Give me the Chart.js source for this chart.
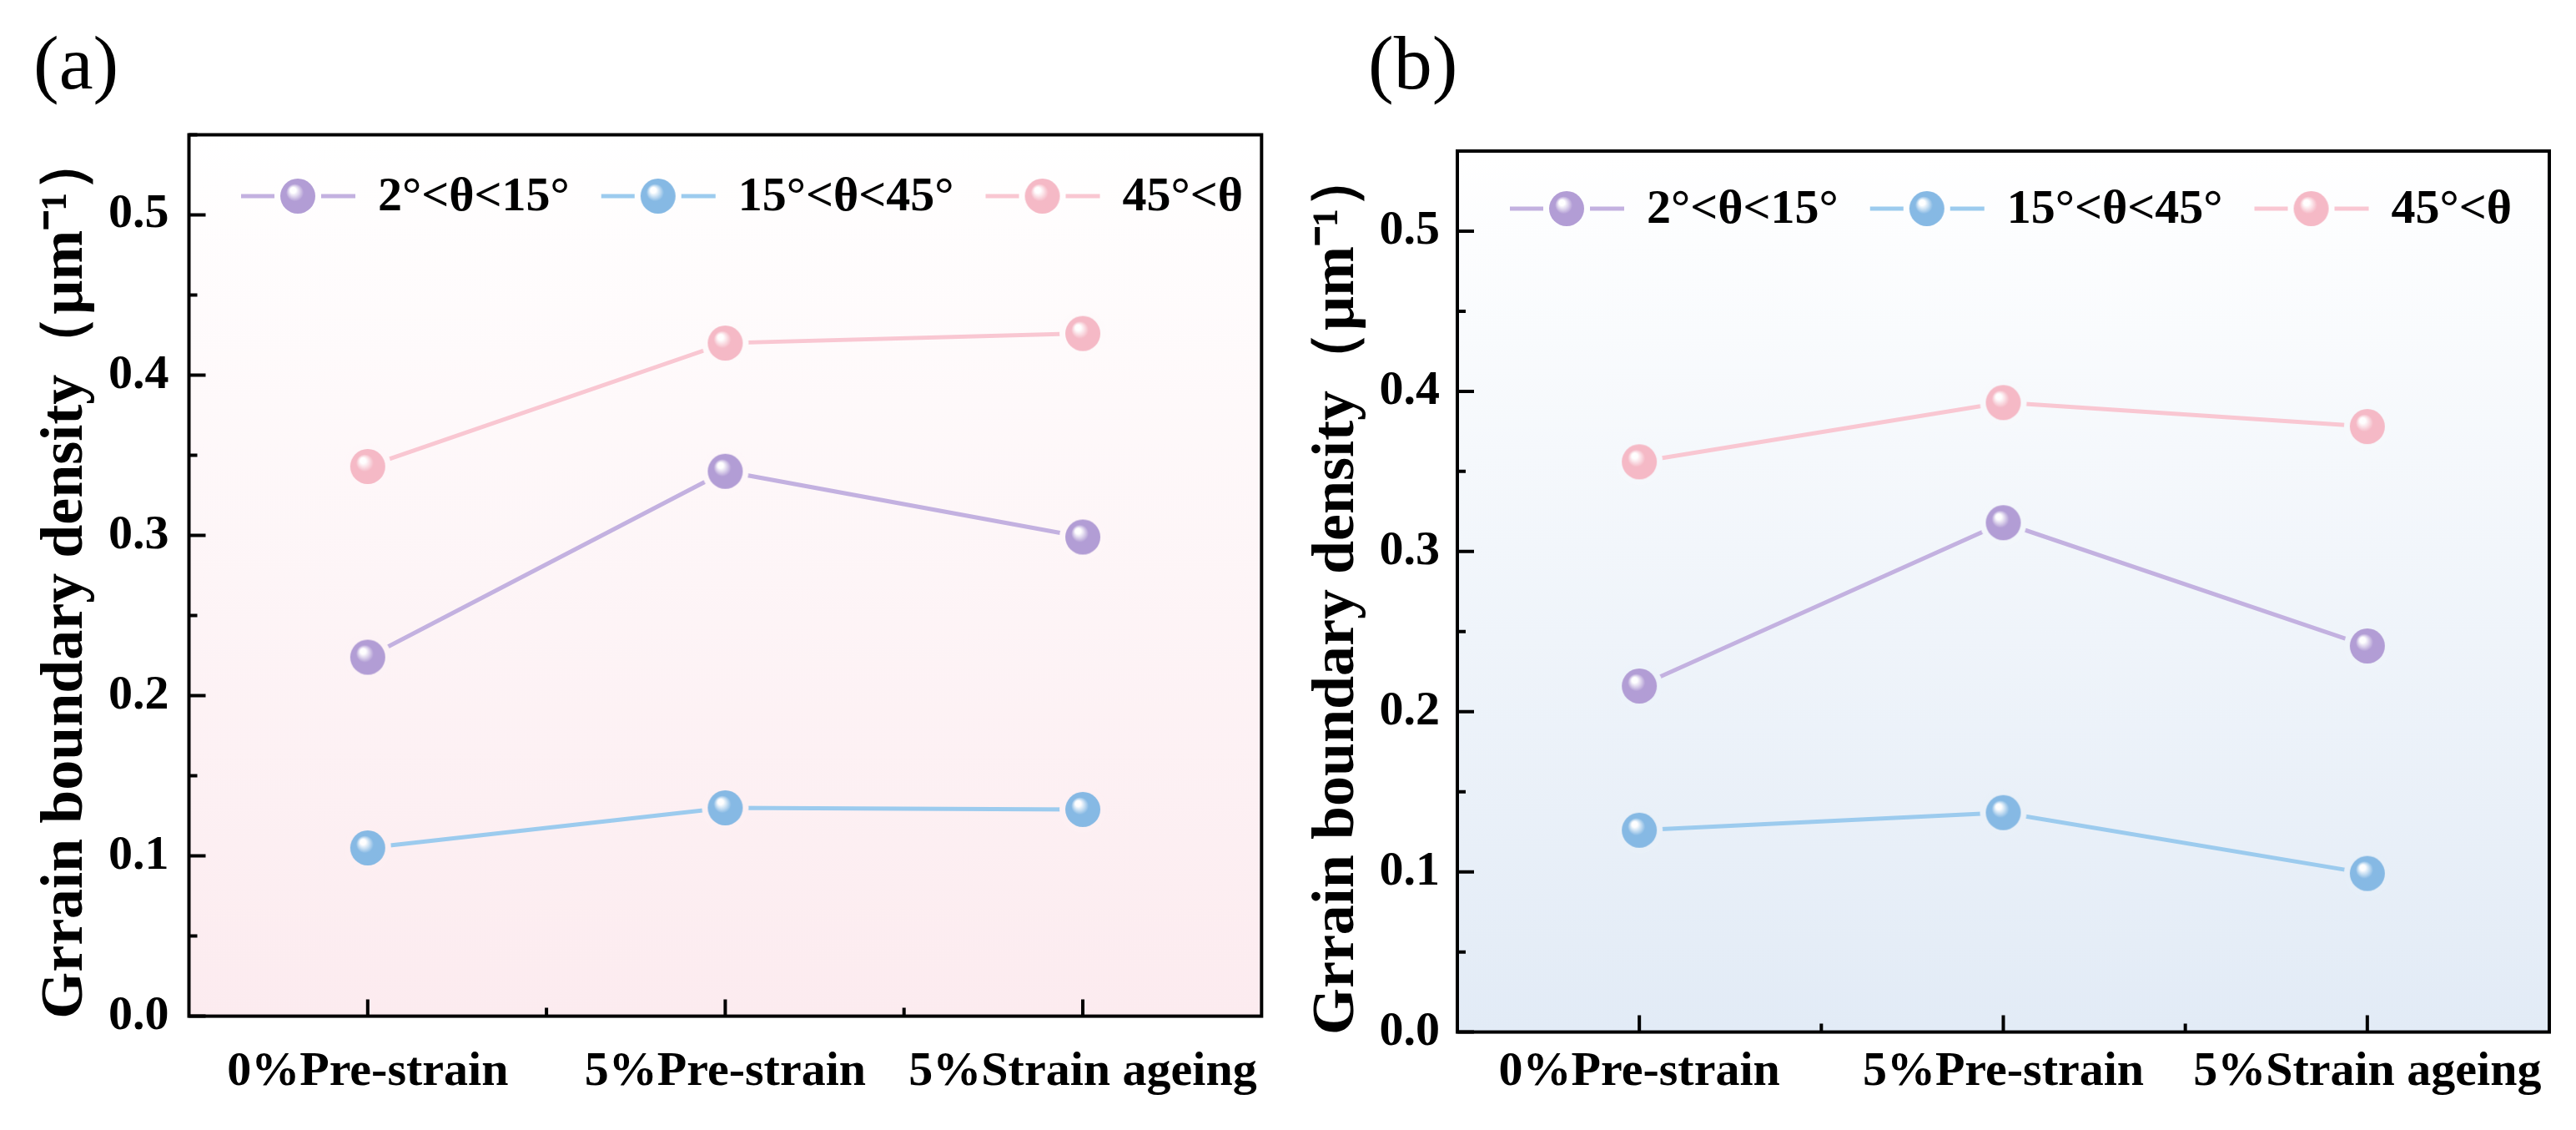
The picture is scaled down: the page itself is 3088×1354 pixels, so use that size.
<!DOCTYPE html>
<html>
<head>
<meta charset="utf-8">
<title>Grain boundary density</title>
<script src="https://cdn.jsdelivr.net/npm/chart.js@4.4.1/dist/chart.umd.min.js"></script>
<style>
  html, body { margin: 0; padding: 0; background: #fff; }
  #page { position: relative; width: 3088px; height: 1354px; overflow: hidden; background: #fff; }
  .panel { position: absolute; top: 0; width: 1544px; height: 1354px; }
  .tag { position: absolute; top: 29px; font-family: "Liberation Serif", "Times New Roman", serif;
         font-size: 92px; line-height: 92px; color: #000; }
</style>
</head>
<body>
<div id="page">
  <div class="panel" style="left:0"><canvas id="chartA" width="1544" height="1354"></canvas></div>
  <div class="panel" style="left:1544px"><canvas id="chartB" width="1544" height="1354"></canvas></div>
  <div class="tag" style="left:40px">(a)</div>
  <div class="tag" style="left:1640px">(b)</div>
</div>
<script>
// data
const categories = ['0%Pre-strain', '5%Pre-strain', '5%Strain ageing'];
const seriesNames = ['2°<θ<15°', '15°<θ<45°', '45°<θ'];

const lowAngleA  = [0.224, 0.340, 0.299];
const midAngleA  = [0.105, 0.130, 0.129];
const highAngleA = [0.343, 0.420, 0.426];

const lowAngleB  = [0.216, 0.318, 0.241];
const midAngleB  = [0.126, 0.137, 0.099];
const highAngleB = [0.356, 0.393, 0.378];

const yMin = 0, yMax = 0.55, yStep = 0.05;
const yTitle = 'Grrain boundary density（μm⁻¹）';

const SERIF = '"Liberation Serif", "Times New Roman", serif';
const markerColors = ['#b29dd5', '#86b9e4', '#f5b9c6'];
const lineColors   = ['#c3b1e0', '#9ccbee', '#f9c7d2'];
const R = 21;      // ball radius
const GAP = 7;     // clear space between ball and line

function hexRgb(h) {
    return [1, 3, 5].map(i => parseInt(h.substr(i, 2), 16));
}
function mix(a, b, t) {
    const p = hexRgb(a), q = hexRgb(b);
    return 'rgb(' + p.map((v, i) => Math.round(v + (q[i] - v) * t)).join(',') + ')';
}

// shaded ball, with a halo of background colour so the line stops short of it
const ballCache = {};
function makeBall(color, halo) {
    const key = color + halo;
    if (ballCache[key]) return ballCache[key];
    const c = document.createElement('canvas');
    c.width = c.height = 2 * (R + GAP) + 2;
    const g = c.getContext('2d');
    const cx = c.width / 2, cy = c.height / 2;
    if (halo) {
        g.fillStyle = halo;
        g.beginPath();
        g.arc(cx, cy, R + GAP, 0, Math.PI * 2);
        g.fill();
    }
    const grad = g.createRadialGradient(cx - 0.32 * R, cy - 0.4 * R, 0, cx, cy, R);
    grad.addColorStop(0, '#ffffff');
    grad.addColorStop(0.16, 'rgba(255,255,255,0.95)');
    grad.addColorStop(0.5, color);
    grad.addColorStop(1, color);
    g.fillStyle = grad;
    g.beginPath();
    g.arc(cx, cy, R, 0, Math.PI * 2);
    g.fill();
    ballCache[key] = c;
    return c;
}

// background, frame, inward ticks and the in-plot legend
const framePlugin = {
    id: 'frame',
    beforeDraw(chart, args, opts) {
        const { ctx, chartArea: a } = chart;
        const grad = ctx.createLinearGradient(0, a.top, 0, a.bottom);
        grad.addColorStop(0, opts.top);
        grad.addColorStop(1, opts.bottom);
        ctx.save();
        ctx.fillStyle = grad;
        ctx.fillRect(a.left, a.top, a.right - a.left, a.bottom - a.top);
        ctx.restore();
    },
    afterDraw(chart, args, opts) {
        const { ctx, chartArea: a } = chart;
        const x = chart.scales.x, y = chart.scales.y;
        ctx.save();
        ctx.strokeStyle = '#000';
        ctx.lineWidth = 4;
        ctx.beginPath();
        y.ticks.forEach(t => {
            const py = y.getPixelForValue(t.value);
            const major = Math.abs(t.value * 10 - Math.round(t.value * 10)) < 1e-6;
            ctx.moveTo(a.left, py);
            ctx.lineTo(a.left + (major ? 20 : 10), py);
        });
        for (let i = 0; i < categories.length; i++) {
            const px = x.getPixelForValue(i);
            ctx.moveTo(px, a.bottom);
            ctx.lineTo(px, a.bottom - 20);
            if (i < categories.length - 1) {
                const mx = x.getPixelForValue(i + 0.5);
                ctx.moveTo(mx, a.bottom);
                ctx.lineTo(mx, a.bottom - 10);
            }
        }
        ctx.stroke();
        ctx.strokeRect(a.left, a.top, a.right - a.left, a.bottom - a.top);

        // legend
        ctx.font = 'bold 58px ' + SERIF;
        ctx.textBaseline = 'middle';
        ctx.textAlign = 'left';
        let lx = a.left + opts.legendX;
        const ly = a.top + opts.legendY;
        chart.data.datasets.forEach((ds, i) => {
            const cxb = lx + 68;
            ctx.strokeStyle = ds.borderColor;
            ctx.lineWidth = 5;
            ctx.beginPath();
            ctx.moveTo(lx, ly);
            ctx.lineTo(cxb - R - GAP, ly);
            ctx.moveTo(cxb + R + GAP, ly);
            ctx.lineTo(lx + 137, ly);
            ctx.stroke();
            const b = makeBall(markerColors[i], null);
            ctx.drawImage(b, cxb - b.width / 2, ly - b.height / 2);
            ctx.fillStyle = '#000';
            ctx.fillText(ds.label, lx + 164, ly + 2);
            lx += 164 + ctx.measureText(ds.label).width + 38;
        });
        ctx.restore();
    }
};

function buildChart(id, series, box) {
    const datasets = series.map((vals, i) => ({
        label: seriesNames[i],
        data: vals,
        borderColor: lineColors[i],
        borderWidth: 5,
        pointStyle: c => {
            const v = c.parsed ? c.parsed.y : 0;
            const halo = mix(box.bgTop, box.bgBottom, 1 - (v - yMin) / (yMax - yMin));
            return makeBall(markerColors[i], halo);
        },
        pointRadius: R,
        fill: false,
        tension: 0
    }));
    return new Chart(document.getElementById(id), {
        type: 'line',
        data: { labels: categories, datasets },
        plugins: [framePlugin],
        options: {
            responsive: false,
            animation: false,
            devicePixelRatio: 1,
            layout: { padding: { top: box.top, left: 0, right: box.right, bottom: 0 } },
            plugins: {
                legend: { display: false },
                tooltip: { enabled: false },
                frame: { top: box.bgTop, bottom: box.bgBottom, legendX: box.legendX, legendY: box.legendY }
            },
            scales: {
                x: {
                    type: 'category',
                    offset: true,
                    grid: { display: false, drawTicks: false },
                    border: { display: false },
                    ticks: {
                        color: '#000', padding: box.xPad, maxRotation: 0, autoSkip: false,
                        font: { family: SERIF, size: 58, weight: 'bold' }
                    },
                    afterFit: s => { s.height = box.xHeight; }
                },
                y: {
                    min: yMin, max: yMax,
                    grid: { display: false, drawTicks: false },
                    border: { display: false },
                    ticks: {
                        stepSize: yStep, autoSkip: false, color: '#000', padding: box.yPad,
                        font: { family: SERIF, size: 58, weight: 'bold' },
                        callback: v => (Math.abs(v * 10 - Math.round(v * 10)) < 1e-6 && v < yMax - 1e-6) ? v.toFixed(1) : ''
                    },
                    title: {
                        display: true, text: yTitle, color: '#000',
                        font: { family: SERIF, size: 72, weight: 'bold', lineHeight: 1.2 },
                        padding: { top: box.titlePad, bottom: 0 }
                    },
                    afterFit: s => { s.width = box.yWidth; }
                }
            }
        }
    });
}

buildChart('chartA', [lowAngleA, midAngleA, highAngleA], {
    top: 161.5, right: 8, yWidth: 226.5, xHeight: 1354 - 1217.6,
    xPad: 33, yPad: 24, titlePad: 36,
    bgTop: '#ffffff', bgBottom: '#fcebef', legendX: 62.5, legendY: 73.5
});
buildChart('chartB', [lowAngleB, midAngleB, highAngleB], {
    top: 181, right: 32, yWidth: 203, xHeight: 1354 - 1236.6,
    xPad: 14, yPad: 21, titlePad: 16,
    bgTop: '#ffffff', bgBottom: '#e2ebf6', legendX: 63, legendY: 69
});
</script>
</body>
</html>
